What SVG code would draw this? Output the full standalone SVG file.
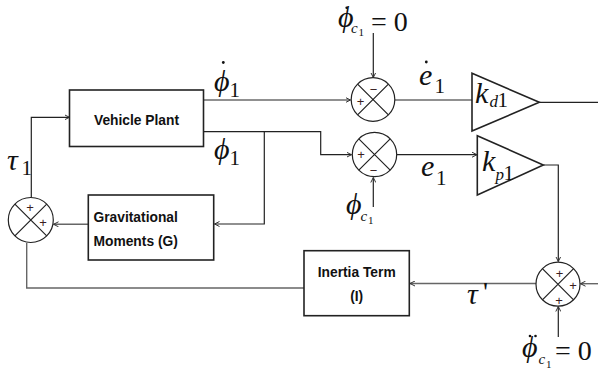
<svg xmlns="http://www.w3.org/2000/svg" width="598" height="374" viewBox="0 0 598 374">
<style>
.ln{fill:none;stroke:#222;stroke-width:1.2}
.gl{fill:none;stroke:#666;stroke-width:1.4}
.box{fill:#fff;stroke:#222;stroke-width:1.6}
.sum{fill:#fff;stroke:#222;stroke-width:1.2}
.lbl{font-family:"Liberation Sans",Arial,sans-serif;font-weight:bold;font-size:13.8px;fill:#111}
.m{font-family:"Liberation Serif","Times New Roman",serif;font-style:italic;font-size:30px;fill:#111}
.r{font-family:"Liberation Serif","Times New Roman",serif;font-size:28px;fill:#111}
.sub{font-family:"Liberation Serif","Times New Roman",serif;font-size:21px;fill:#111}
.subi{font-family:"Liberation Serif","Times New Roman",serif;font-style:italic;font-size:17px;fill:#111}
.cs{font-family:"Liberation Serif","Times New Roman",serif;font-style:italic;font-size:15px;fill:#111}
.c1{font-family:"Liberation Serif","Times New Roman",serif;font-size:11px;fill:#111}
.sg{font-family:"Liberation Sans",Arial,sans-serif;font-size:13px;fill:#3b1e1e;text-anchor:middle}
.dot{fill:#111}
</style>
<defs>
<marker id="ah" markerWidth="6" markerHeight="6" refX="5" refY="3" orient="auto" markerUnits="userSpaceOnUse">
<path d="M0,0.5 L5,3 L0,5.5" fill="none" stroke="#333" stroke-width="1"/>
</marker>
</defs>

<g id="connectors">
<path class="ln" d="M203,100 H350.5" marker-end="url(#ah)"/>
<path class="ln" d="M201,131.7 H320.7 V154.7 H351.5" marker-end="url(#ah)"/>
<path class="ln" d="M264.3,131.7 V224 H214.5" marker-end="url(#ah)"/>
<path class="ln" d="M373.3,33 V77.5" marker-end="url(#ah)"/>
<path class="ln" d="M373.3,207 V177.5" marker-end="url(#ah)"/>
<path class="ln" d="M395,100 H472"/>
<path class="ln" d="M396.5,154.7 H477" marker-end="url(#ah)"/>
<path class="ln" d="M539.3,102.3 H598"/>
<path class="ln" d="M543.3,165 H558.3 V261.5" marker-end="url(#ah)"/>
<path class="gl" d="M598,283.7 H580.5" marker-end="url(#ah)"/>
<path class="ln" d="M558.3,337 V306.5" marker-end="url(#ah)"/>
<path class="gl" d="M536,283.5 H410" marker-end="url(#ah)"/>
<path class="gl" d="M304,288 H26.7 V243"/>
<path class="ln" d="M31.3,197.5 V117.3 H69.5" marker-end="url(#ah)"/>
<path class="gl" d="M88,224.3 H53.5" marker-end="url(#ah)"/>
</g>

<g id="vehicle-plant">
<rect class="box" x="69.5" y="90" width="134" height="56.5"/>
<text class="lbl" x="136.5" y="125" text-anchor="middle">Vehicle Plant</text>
</g>

<g id="gravitational-moments">
<rect class="box" x="88.3" y="195" width="125.4" height="65"/>
<text class="lbl" x="93.5" y="221.5">Gravitational</text>
<text class="lbl" x="93.5" y="245.5">Moments (G)</text>
</g>

<g id="inertia-term">
<rect class="box" x="304" y="250.7" width="105.3" height="65"/>
<text class="lbl" x="356.7" y="277" text-anchor="middle">Inertia Term</text>
<text class="lbl" x="356.7" y="301" text-anchor="middle">(I)</text>
</g>

<g id="sum-rate">
<circle class="sum" cx="373" cy="99.5" r="21.8"/>
<path class="ln" d="M357.6,84.1 L388.4,114.9 M388.4,84.1 L357.6,114.9"/>
<text class="sg" x="373.5" y="93.5">−</text>
<text class="sg" x="360.5" y="106">+</text>
</g>

<g id="sum-angle">
<circle class="sum" cx="374.5" cy="154.5" r="22.2"/>
<path class="ln" d="M358.8,138.8 L390.2,170.2 M390.2,138.8 L358.8,170.2"/>
<text class="sg" x="361" y="159">+</text>
<text class="sg" x="373.5" y="175">−</text>
</g>

<g id="sum-torque">
<circle class="sum" cx="30.8" cy="220" r="22.5"/>
<path class="ln" d="M14.9,204.1 L46.7,235.9 M46.7,204.1 L14.9,235.9"/>
<text class="sg" x="30" y="211.5">+</text>
<text class="sg" x="43" y="227">+</text>
</g>

<g id="sum-out">
<circle class="sum" cx="558" cy="284.2" r="22"/>
<path class="ln" d="M542.4,268.6 L573.6,299.8 M573.6,268.6 L542.4,299.8"/>
<text class="sg" x="559.5" y="277.5">+</text>
<text class="sg" x="573" y="289.5">+</text>
<text class="sg" x="559" y="304.5">+</text>
</g>

<g id="gain-kd">
<path class="box" d="M472,73.3 L472,131 L539.3,102.3 Z"/>
<text class="m" x="475" y="103">k</text>
<text class="subi" x="489.5" y="107">d</text>
<text class="sub" x="497.5" y="107" font-size="17">1</text>
</g>

<g id="gain-kp">
<path class="box" d="M477.3,135.7 L477.3,195 L543.3,165 Z"/>
<text class="m" x="482" y="171">k</text>
<text class="subi" x="495.5" y="180">p</text>
<text class="sub" x="503.5" y="180" font-size="17">1</text>
</g>

<g id="labels">
<text class="m" x="214" y="90.5">ϕ</text>
<circle class="dot" cx="223.3" cy="62.5" r="1.4"/>
<text class="sub" x="229.5" y="96.5">1</text>

<text class="m" x="214" y="159">ϕ</text>
<text class="sub" x="229.5" y="165">1</text>

<text class="m" x="7" y="170">τ</text>
<text class="sub" x="21.5" y="175">1</text>

<text class="m" x="338" y="27" font-size="28">ϕ</text>
<circle class="dot" cx="346.7" cy="7.8" r="1.3"/>
<text class="cs" x="351" y="33">c</text>
<text class="c1" x="358.5" y="35.5">1</text>
<text class="r" x="371" y="31" font-size="27">= 0</text>

<text class="m" x="419" y="85">e</text>
<circle class="dot" cx="426.3" cy="62" r="1.4"/>
<text class="sub" x="434.5" y="93">1</text>

<text class="m" x="421" y="175.5">e</text>
<text class="sub" x="436" y="185">1</text>

<text class="m" x="346" y="214">ϕ</text>
<text class="cs" x="360.5" y="220.5">c</text>
<text class="c1" x="368" y="224">1</text>

<text class="m" x="522" y="357">ϕ</text>
<circle class="dot" cx="530" cy="336" r="1.3"/>
<circle class="dot" cx="535.5" cy="336" r="1.3"/>
<text class="cs" x="538.5" y="364">c</text>
<text class="c1" x="546" y="368">1</text>
<text class="r" x="555" y="360" font-size="29">= 0</text>

<text class="m" x="467" y="304">τ</text>
<text class="r" x="483" y="301" font-size="20">'</text>
</g>
</svg>
